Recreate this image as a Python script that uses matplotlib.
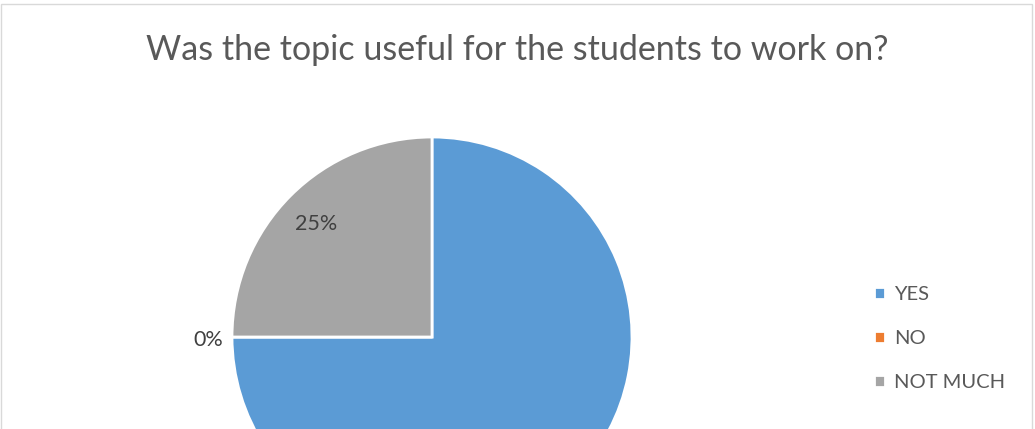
# Pie chart: usefulness of the topic

import numpy as np
import matplotlib.pyplot as plt
from matplotlib.patches import Rectangle

answers = ['YES', 'NO', 'NOT MUCH']
shares = [75, 0, 25]
colors = ['#5B9BD5', '#ED7D31', '#A5A5A5']
title = 'Was the topic useful for the students to work on?'

plt.rcParams['font.family'] = ['Lato', 'DejaVu Sans']

W, H = 1035, 429
fig = plt.figure(figsize=[W / 100, H / 100], dpi=100)
ax = fig.add_axes([0, 0, 1, 1])

# chart area frame
ax.add_patch(Rectangle((1, -10), 1031, H - 4 + 10, fill=False, edgecolor='#D9D9D9', linewidth=1))

cx, cy, r = 432, H - 337, 200
wedges, _ = ax.pie(shares, colors=colors, startangle=90, counterclock=False,
                   center=(cx, cy), radius=r, frame=True,
                   wedgeprops=dict(edgecolor='white', linewidth=2))
ax.set_xlim(0, W)
ax.set_ylim(0, H)
ax.axis('off')

# data labels: inside for non-zero slices, outside for empty ones
# (the chart is cropped at the bottom, so labels below the edge are not shown)
for w, s in zip(wedges, shares):
    ang = np.deg2rad((w.theta1 + w.theta2) / 2)
    d = 0.82 * r if s > 0 else 1.12 * r
    x, y = cx + d * np.cos(ang), cy + d * np.sin(ang)
    if y < 15:
        continue
    ax.text(x, y - 3, f'{s}%', ha='center', va='center', fontsize=15.5, color='#404040')

ax.text(W / 2, H - 50, title, ha='center', va='center', fontsize=24.5, color='#595959')

ax.legend(wedges, answers, loc='upper left', bbox_to_anchor=(856 / W, (H - 268) / H),
          frameon=False, fontsize=14.5, labelcolor='#595959', handlelength=0.55, handleheight=0.55,
          handletextpad=0.45, labelspacing=1.35)

fig.savefig('out.png', dpi=100)
